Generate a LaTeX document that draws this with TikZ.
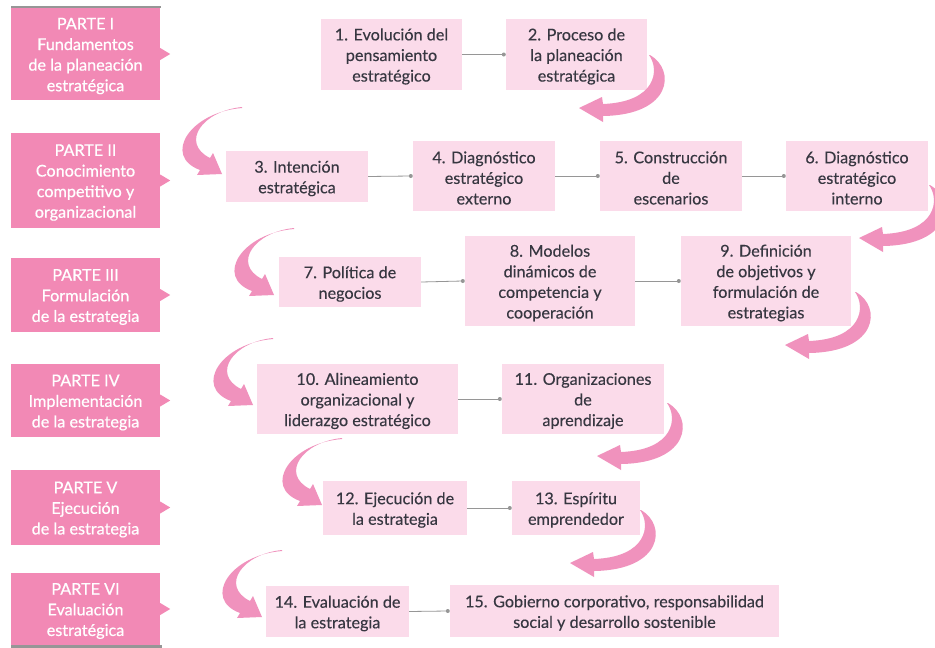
\documentclass[tikz,border=0pt]{standalone}
\usepackage{fontspec}
\setmainfont{Lato}[FakeBold=0.25]
\newfontfamily\partfont{Lato}[FakeBold=0.6]
\begin{document}
\begin{tikzpicture}[x=1pt,y=-1pt,
  every node/.style={font=\fontsize{16.2}{20.6}\selectfont},
  partbox/.style={fill=partc, inner sep=0pt, minimum width=149},
  parttext/.style={text=white, inner sep=0pt, align=center, font=\partfont\fontsize{16.2}{20.6}\selectfont},
  topicbox/.style={fill=topicc, inner sep=0pt},
  topictext/.style={text=txtc, inner sep=0pt, align=center},
  link/.style={draw=linkc, line width=0.8pt},
  arrowc/.style={fill=arrc}]
\definecolor{partc}{RGB}{242,137,181}
\definecolor{topicc}{RGB}{251,219,234}
\definecolor{txtc}{RGB}{55,55,65}
\definecolor{linkc}{RGB}{150,150,150}
\definecolor{arrc}{RGB}{240,146,189}
\useasboundingbox (0,0) rectangle (935,648);
\fill[white] (0,0) rectangle (935,648);
% gray rules
\fill[linkc] (11,6) rectangle (161,8);
\fill[linkc] (11,645) rectangle (162,648);
% part boxes
\newcommand\partnode[4]{%
  \node[partbox, minimum height=#3] (#1) at (85.5,#2) {};
  \fill[partc] ([yshift=6pt]#1.east) -- ([xshift=10pt]#1.east) -- ([yshift=-6pt]#1.east) -- cycle;
  \node[parttext] (#1t) at ([yshift=-2pt]#1.center) {#4};}
\partnode{p1}{54}{92}{PARTE I\\Fundamentos\\de la planeación\\estratégica}
\partnode{p2}{180.5}{95}{PARTE II\\Conocimiento\\competitivo y\\organizacional}
\partnode{p3}{295}{74}{PARTE III\\Formulación\\de la estrategia}
\partnode{p4}{400.5}{73}{PARTE IV\\Implementación\\de la estrategia}
\partnode{p5}{507.5}{75}{PARTE V\\Ejecución\\de la estrategia}
\partnode{p6}{609}{72}{PARTE VI\\Evaluación\\estratégica}
% topic boxes
\newcommand\topic[6]{%
  \node[topicbox, minimum width=#4, minimum height=#5] (#1) at (#2,#3) {};
  \node[topictext] (#1t) at ([yshift=-2pt]#1.center) {#6};}
\topic{b1}{391.5}{54.5}{141}{71}{1. Evolución del\\pensamiento\\estratégico}
\topic{b2}{576.5}{54.5}{141}{71}{2. Proceso de\\la planeación\\estratégica}
\topic{b3}{297}{176.5}{142}{51}{3. Intención\\estratégica}
\topic{b4}{484}{176}{142}{70}{4. Diagnóstico\\estratégico\\externo}
\topic{b5}{671}{176}{142}{70}{5. Construcción\\de\\escenarios}
\topic{b6}{857}{176}{142}{70}{6. Diagnóstico\\estratégico\\interno}
\topic{b7}{350}{282}{142}{50}{7. Política de\\negocios}
\topic{b8}{550}{281}{170}{90}{8. Modelos\\dinámicos de\\competencia y\\cooperación}
\topic{b9}{766}{281}{170}{90}{9. Definición\\de objetivos y\\formulación de\\estrategias}
\topic{b10}{357.5}{399}{201}{70}{10. Alineamiento\\organizacional y\\liderazgo estratégico}
\topic{b11}{583}{399}{162}{70}{11. Organizaciones\\de\\aprendizaje}
\topic{b12}{395}{508}{144}{54}{12. Ejecución de\\la estrategia}
\topic{b13}{576}{508}{128}{54}{13. Espíritu\\emprendedor}
\topic{b14}{337.5}{611.5}{143}{51}{14. Evaluación de\\la estrategia}
\topic{b15}{614.5}{611}{329}{52}{15. Gobierno corporativo, responsabilidad\\social y desarrollo sostenible}
% connectors
\newcommand\linkab[2]{\draw[link] (#1.east) -- ([xshift=-2pt]#2.west); \fill[linkc] ([xshift=-2pt]#2.west) circle (2pt);}
\linkab{b1}{b2}\linkab{b3}{b4}\linkab{b4}{b5}\linkab{b5}{b6}
\linkab{b7}{b8}\linkab{b8}{b9}\linkab{b10}{b11}\linkab{b12}{b13}\linkab{b14}{b15}
% curved arrows
\newcommand\rarrow[2]{\fill[arrowc, shift={(#1,#2)}] (0,0) .. controls (26,15) and (22,60) .. (-47,61) -- (-47,67) -- (-71,53) -- (-48,42) -- (-47,49) .. controls (6,47) and (10,15) .. (-1,0) -- cycle;}
\newcommand\larrow[2]{\fill[arrowc, shift={(#1,#2)}] (0,0) .. controls (-52,4) and (-80,48) .. (-42,62) -- (-45,67) -- (-20,66) -- (-29,45) -- (-32,50) .. controls (-62,35) and (-40,3) .. (0,-1) -- cycle;}
\rarrow{650}{55}
\larrow{242}{108}
\rarrow{930}{185}
\larrow{294}{229}
\rarrow{856}{292}
\larrow{273}{339}
\rarrow{668}{403}
\larrow{342}{439}
\rarrow{641}{510}
\larrow{282}{551}
\end{tikzpicture}
\end{document}
